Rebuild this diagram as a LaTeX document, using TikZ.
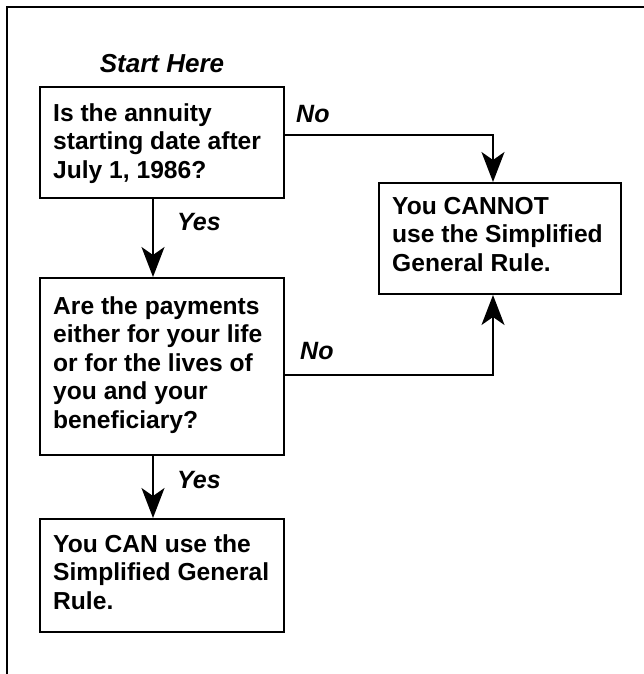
\documentclass[tikz,border=0pt]{standalone}
\usepackage{fontspec}
\setmainfont{Liberation Sans}
\usetikzlibrary{arrows.meta}
\tikzset{
  boxshape/.style={draw, line width=2pt, minimum width=244pt, inner sep=0pt, anchor=north west},
  boxtext/.style={anchor=north west, inner sep=0pt, align=left, font=\bfseries\fontsize{24.6}{28.6}\selectfont},
  lbl/.style={anchor=base west, inner sep=0pt, font=\bfseries\itshape\fontsize{25}{29}\selectfont},
  conn/.style={line width=1.8pt, -{Stealth[length=30pt,width=23pt,inset=8pt]}},
  frame/.style={line width=2pt}
}
\begin{document}
\begin{tikzpicture}[x=1pt,y=-1pt]
\useasboundingbox (0,0) rectangle (644,674);
\draw[frame] (644,7) -- (7,7) -- (7,674);

% boxes
\node[boxshape, minimum height=111pt] (q1) at (39,86) {};
\node[boxshape, minimum height=177pt] (q2) at (39,277) {};
\node[boxshape, minimum height=113pt] (can) at (39,518) {};
\node[boxshape, minimum width=242pt, minimum height=111pt] (cannot) at (378,182) {};

% texts
\node[boxtext] (t1) at (53,103) {Is the annuity\\starting date after\\July 1, 1986?};
\node[boxtext] (t2) at (53,296) {Are the payments\\either for your life\\or for the lives of\\you and your\\beneficiary?};
\node[boxtext] (t3) at (53,534) {You CAN use the\\Simplified General\\Rule.};
\node[boxtext] (t4) at (392,197) {You CANNOT\\use the Simplified\\General Rule.};

% labels
\node[anchor=base, inner sep=0pt, font=\bfseries\itshape\fontsize{26}{30}\selectfont] (start) at (162,73) {Start Here};
\node[lbl] (yes1) at (177,230) {Yes};
\node[lbl] (yes2) at (177,488) {Yes};
\node[lbl] (no1) at (296,122) {No};
\node[lbl] (no2) at (300,359) {No};

% connectors
\draw[conn] ([xshift=-9pt]q1.south) -- ([xshift=-9pt]q2.north);
\draw[conn] ([xshift=-9pt]q2.south) -- ([xshift=-9pt]can.north);
\draw[conn] ([yshift=7.5pt]q1.east) -| ([xshift=-7pt]cannot.north);
\draw[conn] ([yshift=-8.5pt]q2.east) -| ([xshift=-7pt]cannot.south);
\end{tikzpicture}
\end{document}
